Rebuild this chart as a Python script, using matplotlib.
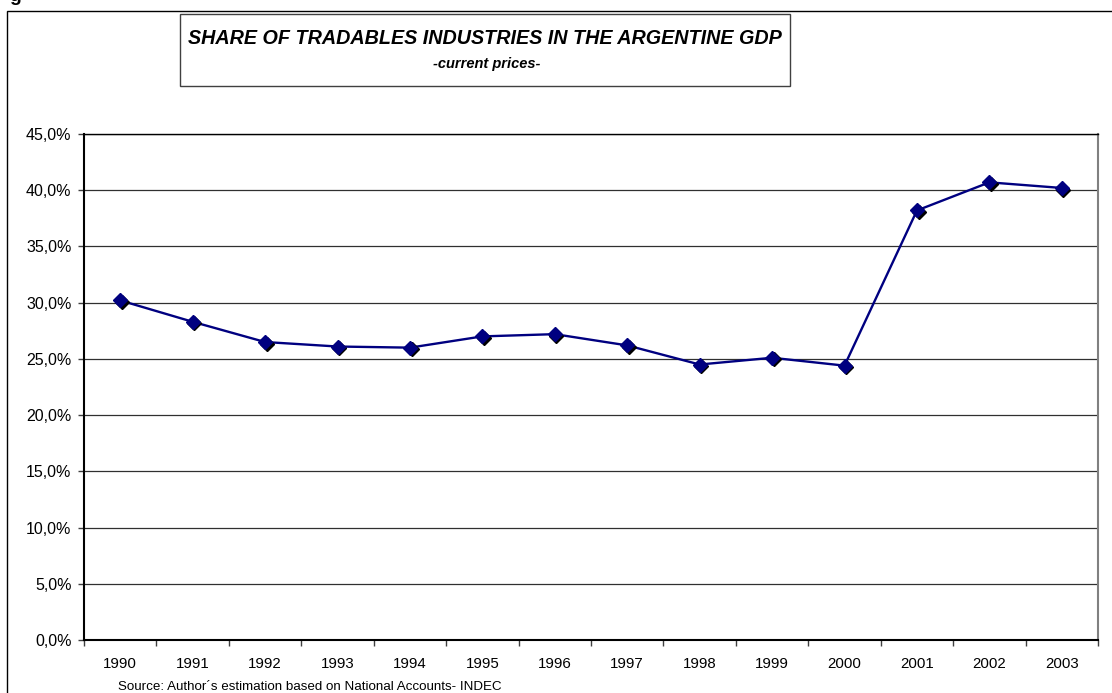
import matplotlib
matplotlib.use("Agg")
import matplotlib.pyplot as plt
import matplotlib.patches as patches
import matplotlib.transforms as mtransforms
from matplotlib.ticker import FixedLocator, NullFormatter, FuncFormatter

plt.rcParams['font.family'] = ['Liberation Sans', 'DejaVu Sans']

years = ["1990", "1991", "1992", "1993", "1994", "1995", "1996",
         "1997", "1998", "1999", "2000", "2001", "2002", "2003"]
share = [30.2, 28.3, 26.5, 26.1, 26.0, 27.0, 27.2,
         26.2, 24.5, 25.1, 24.4, 38.2, 40.7, 40.2]
yticks = [0, 5, 10, 15, 20, 25, 30, 35, 40, 45]
title = "SHARE OF TRADABLES INDUSTRIES IN THE ARGENTINE GDP"
subtitle = "-current prices-"
source = "Source: Author\u00b4s estimation based on National Accounts- INDEC"

W, H = 1112, 693
fig = plt.figure(figsize=(W / 100, H / 100), dpi=100)

def fx(px):
    return px / W

def fy(py):
    return 1 - py / H

# outer chart frame
fig.patches.append(patches.Rectangle((fx(7), fy(720)), fx(1130) - fx(7), fy(11) - fy(720),
                                     transform=fig.transFigure, fill=False,
                                     edgecolor='black', linewidth=1.0, zorder=0))
# cut-off heading fragment
fig.text(fx(9), fy(1), "g", fontsize=14, fontweight='bold', ha='left', va='baseline')

ax = fig.add_axes([fx(84), fy(640), fx(1098) - fx(84), fy(134) - fy(640)])

x = list(range(len(years)))
shadow = mtransforms.offset_copy(ax.transData, fig=fig, x=1.2, y=-1.2, units='points')
ax.plot(x, share, color='#000080', linewidth=1.7, zorder=3)
ax.plot(x, share, linestyle='none', marker='D', markersize=7, color='black',
        transform=shadow, zorder=3)
ax.plot(x, share, linestyle='none', marker='D', markersize=7, color='#000080',
        markeredgecolor='#000080', zorder=4)

ax.set_xlim(-0.5, len(years) - 0.5)
ax.set_ylim(0, 45)
ax.yaxis.set_major_locator(FixedLocator(yticks))
ax.yaxis.set_major_formatter(FuncFormatter(lambda v, p: f"{v:.1f}%".replace('.', ',')))
ax.grid(axis='y', color='#303030', linewidth=0.9)
ax.set_axisbelow(True)

ax.xaxis.set_major_locator(FixedLocator([i - 0.5 for i in range(len(years) + 1)]))
ax.xaxis.set_major_formatter(NullFormatter())
ax.xaxis.set_minor_locator(FixedLocator(x))
ax.set_xticklabels(years, minor=True)
ax.tick_params(axis='x', which='major', direction='out', length=4, width=1, color='#404040')
ax.tick_params(axis='x', which='minor', length=0, pad=12.5, labelsize=10.8)
ax.tick_params(axis='y', direction='out', length=4, width=1, color='#404040', pad=5,
               labelsize=11.5)

for s in ['left', 'bottom']:
    ax.spines[s].set_linewidth(1.5)
    ax.spines[s].set_color('black')
ax.spines['right'].set_color('#808080')
ax.spines['right'].set_linewidth(1.5)
ax.spines['top'].set_color('black')
ax.spines['top'].set_linewidth(1.0)

# title box
fig.patches.append(patches.Rectangle((fx(180), fy(86)), fx(790) - fx(180), fy(14) - fy(86),
                                     transform=fig.transFigure, fill=False,
                                     edgecolor='#404040', linewidth=1.0, zorder=5))
fig.text(fx(485), fy(38), title, fontsize=14.2, fontweight='bold', fontstyle='italic',
         ha='center', va='center')
fig.text(fx(487), fy(64), subtitle, fontsize=10.5, fontweight='bold', fontstyle='italic',
         ha='center', va='center')

fig.text(fx(118), fy(686.5), source, fontsize=9.6, ha='left', va='center')

fig.savefig("out.png", dpi=100)
